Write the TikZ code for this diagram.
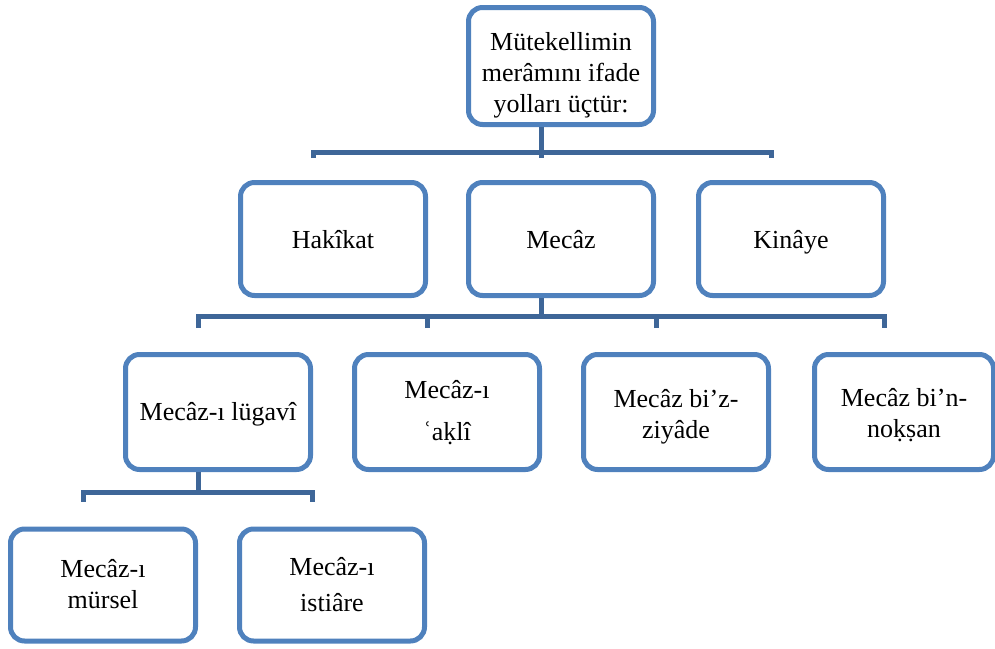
\documentclass[tikz,border=0pt]{standalone}
\usepackage{fontspec}
\setmainfont{Liberation Serif}
\definecolor{boxblue}{HTML}{4F81BD}
\definecolor{linkblue}{HTML}{3E6698}
% centred lines, lowered inside the box without changing the box size
\newcommand\boxtext[2][3pt]{\raisebox{-#1}[\height][\depth]{\begin{tabular}{@{}c@{}}#2\end{tabular}}}
\begin{document}
\begin{tikzpicture}[x=1pt,y=-1pt,
  box/.style={draw=boxblue, line width=5pt, rounded corners=14pt, fill=white,
    inner sep=0pt, font=\fontsize{26}{31}\selectfont,
    minimum width=185pt, minimum height=113pt},
  link/.style={draw=linkblue, line width=5pt}]
\useasboundingbox (0,0) rectangle (995,648);

% boxes
\node[box, minimum height=117pt] (root) at (561,66)
  {\boxtext[9pt]{Mütekellimin\\merâmını ifade\\yolları üçtür:}};

\node[box] (hak) at (333,239) {\boxtext{Hakîkat}};
\node[box] (mec) at (561,239) {\boxtext{Mecâz}};
\node[box] (kin) at (791,239) {\boxtext{Kinâye}};

\node[box, minimum height=115pt] (lug) at (218,412) {\boxtext[2pt]{Mecâz-ı lügavî}};
\node[box, minimum height=115pt] (akl) at (447,412) {\boxtext[1pt]{Mecâz-ı\\[11pt]ʿaḳlî}};
\node[box, minimum height=115pt] (ziy) at (676,412) {\boxtext[5pt]{Mecâz bi’z-\\ziyâde}};
\node[box, minimum height=115pt, minimum width=179pt] (nok) at (904,412) {\boxtext[4pt]{Mecâz bi’n-\\noḳṣan}};

\node[box, minimum height=112pt] (mur) at (103,585) {\boxtext[2pt]{Mecâz-ı\\mürsel}};
\node[box, minimum height=112pt] (ist) at (332,585) {\boxtext[2pt]{Mecâz-ı\\[5pt]istiâre}};

% junction points of the connector bars
\coordinate (j1) at (541,152);
\coordinate (j2) at (541,316);
\coordinate (j3) at (198,492);

% stub ends above the child boxes
\coordinate (shak) at ([xshift=-20pt,yshift=22pt]hak.north);
\coordinate (smec) at ([xshift=-20pt,yshift=22pt]mec.north);
\coordinate (skin) at ([xshift=-20pt,yshift=22pt]kin.north);
\coordinate (slug) at ([xshift=-20pt,yshift=24pt]lug.north);
\coordinate (sakl) at ([xshift=-20pt,yshift=24pt]akl.north);
\coordinate (sziy) at ([xshift=-20pt,yshift=24pt]ziy.north);
\coordinate (snok) at ([xshift=-20pt,yshift=24pt]nok.north);
\coordinate (smur) at ([xshift=-20pt,yshift=25pt]mur.north);
\coordinate (sist) at ([xshift=-20pt,yshift=25pt]ist.north);

% connectors
\draw[link] (j1 |- root.south) -- (smec);
\draw[link] (shak) |- (j1) -| (skin);

\draw[link] (j2 |- mec.south) -- (j2);
\draw[link] (slug) |- (j2) -| (snok);
\draw[link] (sakl) -- (sakl |- j2);
\draw[link] (sziy) -- (sziy |- j2);

\draw[link] (j3 |- lug.south) -- (j3);
\draw[link] (smur) |- (j3) -| (sist);
\end{tikzpicture}
\end{document}
